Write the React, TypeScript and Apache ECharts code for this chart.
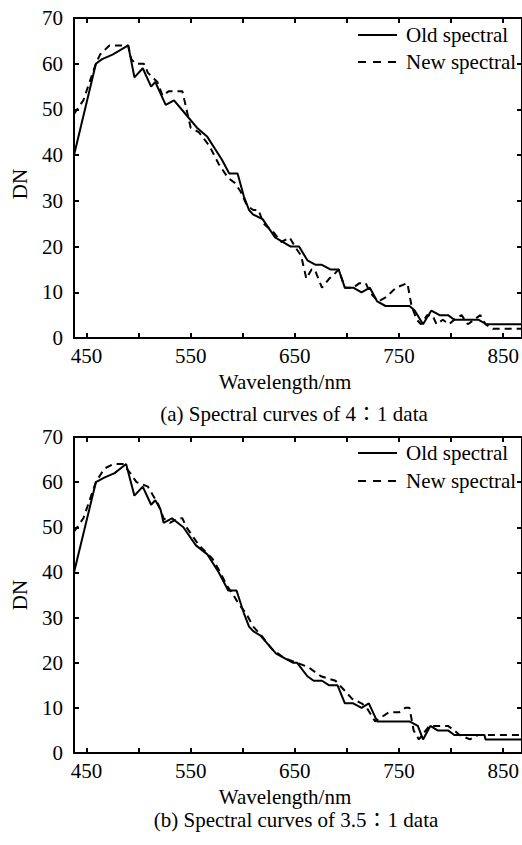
import React, { useEffect, useRef } from "react";
import * as echarts from "echarts";

const tickValues = [450, 500, 550, 600, 650, 700, 750, 800, 850];
const labelValues = [450, 550, 650, 750, 850];
const seriesNames = ["Old spectral", "New spectral"];
const captions = ["(a) Spectral curves of 4\u22361 data", "(b) Spectral curves of 3.5\u22361 data"];

const oldA: number[][] = [
  [438, 40], [459, 60], [465, 61], [475, 62], [490, 64], [496, 57], [504, 59], [512, 55], [516, 56], [520, 54],
  [526, 51], [534, 52], [545, 49], [556, 46], [566, 44], [580, 39], [587, 36], [595, 36], [601, 31], [606, 28],
  [610, 27], [619, 26], [631, 22], [646, 20], [654, 20], [662, 17], [670, 16], [676, 16], [684, 15], [692, 15],
  [698, 11], [706, 11], [714, 10], [722, 11], [729, 8], [737, 7], [760, 7], [765, 6], [773, 3], [781, 6],
  [789, 5], [797, 5], [803, 4], [826, 4], [834, 3], [868, 3],
];
const newA: number[][] = [
  [438, 49], [447, 52], [459, 60], [463, 62], [472, 64], [490, 64], [493, 61], [497, 60], [505, 60], [509, 58],
  [518, 56], [523, 53], [529, 54], [542, 54], [545, 51], [550, 46], [558, 45], [568, 42], [577, 38], [586, 35],
  [592, 34], [598, 32], [604, 29], [610, 28], [615, 28], [620, 25], [630, 23], [637, 21], [645, 22], [650, 20],
  [656, 18], [661, 13], [666, 15], [669, 15], [676, 11], [683, 13], [688, 14], [692, 15], [698, 11], [706, 11],
  [712, 12], [718, 12], [722, 10], [730, 8], [738, 9], [747, 11], [758, 12], [762, 7], [767, 4], [771, 3],
  [777, 5], [782, 5], [786, 3], [792, 4], [798, 3], [803, 4], [810, 5], [816, 3], [822, 4], [828, 5],
  [833, 3], [840, 2], [868, 2],
];
const oldB: number[][] = [
  [438, 40], [459, 60], [467, 61], [477, 62], [488, 64], [496, 57], [504, 59], [512, 55], [516, 56], [521, 54],
  [524, 51], [532, 52], [543, 50], [555, 46], [566, 44], [577, 40], [586, 36], [594, 36], [601, 31], [606, 28],
  [610, 27], [617, 26], [632, 22], [648, 20], [652, 20], [662, 17], [668, 16], [676, 16], [683, 15], [691, 15],
  [698, 11], [706, 11], [714, 10], [721, 11], [729, 7], [760, 7], [768, 6], [773, 3], [780, 6], [787, 5],
  [797, 5], [803, 4], [832, 4], [833, 3], [868, 3],
];
const newB: number[][] = [
  [438, 49], [447, 52], [459, 60], [467, 63], [476, 64], [485, 64], [492, 62], [498, 60], [509, 59], [514, 57],
  [519, 55], [524, 52], [530, 51], [538, 52], [542, 52], [546, 50], [558, 46], [571, 43], [576, 41], [585, 37],
  [591, 35], [596, 33], [603, 31], [610, 28], [618, 26], [628, 23], [640, 21], [652, 20], [663, 19], [675, 17],
  [689, 16], [697, 14], [705, 12], [714, 11], [719, 10], [727, 7], [740, 9], [750, 9], [756, 10], [760, 10],
  [764, 5], [769, 3], [779, 6], [786, 6], [797, 6], [803, 5], [808, 4], [818, 3], [826, 4], [868, 4],
];

const FONT = "'Liberation Serif', 'Times New Roman', 'Noto Sans CJK SC', serif";
const FS = 21;
const DASH = [7, 5];

export default function App() {
  const ref = useRef<HTMLDivElement>(null);
  useEffect(() => {
    if (!ref.current) return;
    const chart = echarts.init(ref.current, undefined, { renderer: "svg" });
    const axisLine = { show: true, onZero: false, lineStyle: { color: "#000", width: 2 } };
    const mkX = (grid: number, top: boolean) => ({
      type: "value",
      gridIndex: grid,
      position: top ? "top" : "bottom",
      min: 438,
      max: 868,
      axisLine,
      splitLine: { show: false },
      axisTick: { show: true, inside: true, length: 5, customValues: tickValues, lineStyle: { color: "#000", width: 2 } },
      axisLabel: top
        ? { show: false }
        : { show: true, customValues: labelValues, margin: 7, color: "#000", fontSize: FS, fontFamily: FONT },
    });
    const mkY = (grid: number, right: boolean) => ({
      type: "value",
      gridIndex: grid,
      position: right ? "right" : "left",
      min: 0,
      max: 70,
      interval: 10,
      axisLine,
      splitLine: { show: false },
      axisTick: { show: true, inside: true, length: 5, lineStyle: { color: "#000", width: 2 } },
      axisLabel: right
        ? { show: false }
        : { show: true, margin: 11, color: "#000", fontSize: FS, fontFamily: FONT },
    });
    const mkSeries = (name: string, data: number[][], grid: number, dashed: boolean) => ({
      type: "line",
      name,
      data,
      xAxisIndex: grid * 2,
      yAxisIndex: grid * 2,
      symbol: "none",
      lineStyle: { color: "#000", width: 2, type: dashed ? DASH : "solid" },
      itemStyle: { color: "#000" },
    });
    const txt = (text: string, x: number, y: number, rot = 0, align = "center") => ({
      type: "text",
      x,
      y,
      rotation: rot,
      style: { text, fill: "#000", font: `${FS}px ${FONT}`, textAlign: align, textVerticalAlign: "middle" },
    });
    const legendItem = (name: string, y: number, dashed: boolean) => [
      {
        type: "line",
        shape: { x1: 358, y1: y, x2: 397, y2: y },
        style: { stroke: "#000", lineWidth: 2, lineDash: dashed ? [8, 7] : null },
      },
      txt(name, 406, y, 0, "left"),
    ];
    chart.setOption({
      animation: false,
      backgroundColor: "#fff",
      grid: [
        { left: 74, right: -2, top: 18, height: 320 },
        { left: 74, right: -2, top: 437, height: 316 },
      ],
      xAxis: [mkX(0, false), mkX(0, true), mkX(1, false), mkX(1, true)],
      yAxis: [mkY(0, false), mkY(0, true), mkY(1, false), mkY(1, true)],
      series: [
        mkSeries(seriesNames[0], oldA, 0, false),
        mkSeries(seriesNames[1], newA, 0, true),
        mkSeries(seriesNames[0], oldB, 1, false),
        mkSeries(seriesNames[1], newB, 1, true),
      ],
      graphic: [
        ...legendItem(seriesNames[0], 35, false),
        ...legendItem(seriesNames[1], 62, true),
        ...legendItem(seriesNames[0], 453, false),
        ...legendItem(seriesNames[1], 481, true),
        txt("DN", 20, 184, Math.PI / 2),
        txt("DN", 20, 595, Math.PI / 2),
        txt("Wavelength/nm", 285, 382),
        txt("Wavelength/nm", 285, 797),
        txt(captions[0], 294, 414),
        txt(captions[1], 296, 820),
      ],
    });
    return () => chart.dispose();
  }, []);
  return <div ref={ref} style={{ position: "absolute", left: 0, top: 0, width: 522, height: 845, background: "#fff" }} />;
}
